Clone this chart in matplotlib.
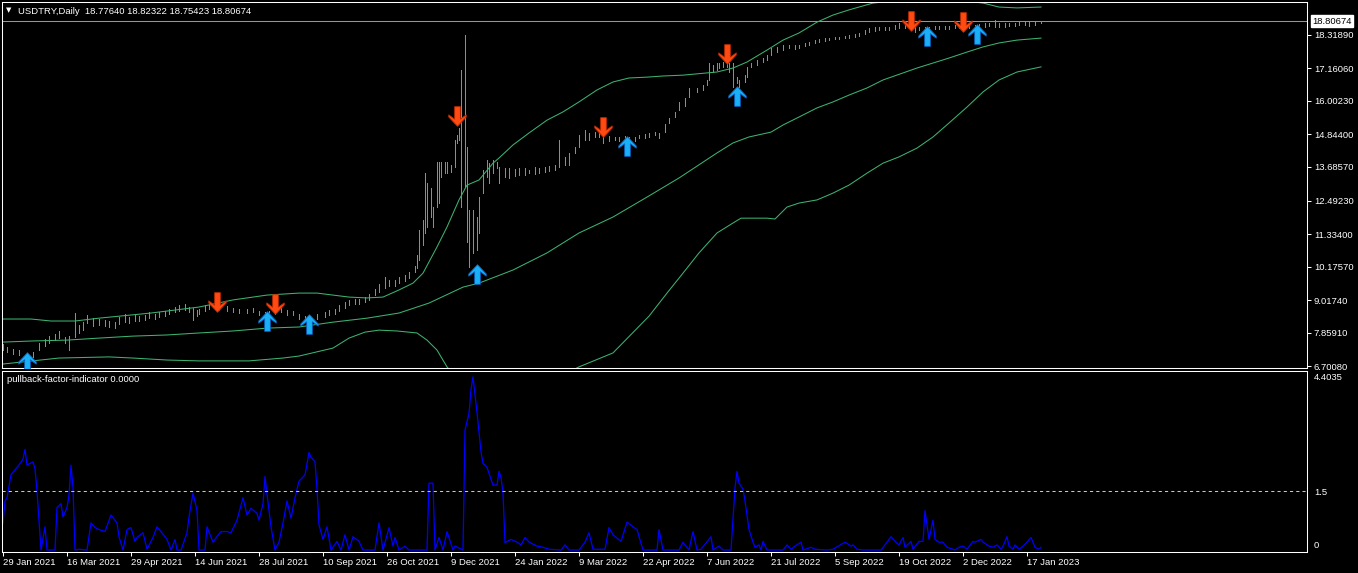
import numpy as np
import matplotlib
matplotlib.use('Agg')
import matplotlib.pyplot as plt
from matplotlib.path import Path

plt.rcParams['font.family'] = ['Liberation Sans', 'DejaVu Sans']

# price bars (bar index, high, low)
bar_idx = [0, 2, 5, 8, 12, 15, 18, 21, 23, 26, 28, 31, 33, 36, 38, 40, 42, 45, 48, 51,
           53, 56, 58, 61, 63, 66, 68, 71, 73, 76, 78, 81, 83, 86, 88, 91, 93, 95, 97, 98,
           101, 103, 106, 108, 112, 115, 118, 122, 125, 128, 131, 133, 136, 139, 142, 145, 148, 151, 153, 157,
           161, 163, 166, 168, 171, 173, 176, 178, 181, 183, 186, 188, 191, 193, 196, 198, 201, 203, 206, 207,
           208, 210, 211, 212, 214, 215, 217, 218, 219, 221, 222, 224, 226, 227, 228, 229, 231, 232, 233, 235,
           237, 238, 240, 242, 243, 245, 247, 248, 251, 253, 256, 258, 261, 263, 266, 268, 271, 273, 276, 278,
           281, 283, 286, 288, 291, 293, 296, 298, 300, 303, 306, 308, 311, 313, 316, 318, 321, 323, 326, 328,
           331, 333, 336, 338, 341, 343, 347, 350, 352, 353, 355, 357, 358, 360, 362, 363, 365, 367, 368, 371,
           372, 374, 377, 380, 382, 384, 387, 390, 393, 396, 398, 401, 403, 406, 408, 411, 413, 416, 418, 421,
           423, 426, 428, 431, 433, 436, 438, 441, 443, 446, 448, 451, 453, 456, 458, 461, 463, 466, 468, 471,
           473, 476, 478, 481, 483, 486, 488, 491, 493, 496, 498, 501, 503, 506, 508, 511, 513, 516, 519]
bar_high = [7.47, 7.37, 7.30, 7.26, 7.16, 7.19, 7.51, 7.65, 7.75, 7.82, 7.93, 7.72, 7.75, 8.56, 8.14, 8.24, 8.49, 8.38, 8.35, 8.32,
            8.28, 8.24, 8.42, 8.52, 8.42, 8.49, 8.46, 8.49, 8.60, 8.52, 8.60, 8.63, 8.70, 8.77, 8.84, 8.88, 8.77, 8.74, 8.67, 8.70,
            8.84, 8.88, 8.88, 8.84, 8.81, 8.74, 8.70, 8.70, 8.74, 8.63, 8.60, 8.63, 8.70, 8.74, 8.67, 8.63, 8.52, 8.46, 8.46, 8.52,
            8.60, 8.67, 8.70, 8.84, 8.95, 9.02, 9.05, 9.05, 9.12, 9.23, 9.40, 9.58, 9.82, 9.72, 9.72, 9.82, 9.89, 10.00, 10.21, 10.60,
            11.47, 11.82, 13.47, 13.12, 12.95, 12.28, 13.86, 13.86, 13.86, 13.86, 13.86, 13.75, 14.63, 14.81, 15.05, 17.09, 18.32, 14.39, 12.17, 12.17,
            11.93, 12.63, 13.58, 13.93, 13.82, 13.93, 13.86, 13.69, 13.65, 13.65, 13.61, 13.65, 13.65, 13.58, 13.69, 13.65, 13.69, 13.72, 13.75, 14.63,
            14.04, 14.18, 14.39, 14.81, 14.98, 14.88, 14.91, 14.88, 14.81, 14.77, 14.74, 14.74, 14.77, 14.74, 14.74, 14.81, 14.84, 14.88, 14.91, 14.88,
            15.19, 15.40, 15.62, 15.97, 16.11, 16.46, 16.46, 16.56, 16.74, 17.34, 17.27, 17.34, 17.34, 17.37, 17.37, 17.34, 17.34, 16.84, 16.74, 16.91,
            17.20, 17.34, 17.44, 17.51, 17.62, 17.86, 17.90, 17.97, 17.97, 17.97, 17.97, 18.04, 18.07, 18.14, 18.18, 18.21, 18.21, 18.25, 18.25, 18.28,
            18.32, 18.35, 18.39, 18.49, 18.56, 18.60, 18.60, 18.60, 18.60, 18.67, 18.74, 18.67, 18.67, 18.63, 18.60, 18.60, 18.60, 18.63, 18.63, 18.63,
            18.63, 18.67, 18.67, 18.67, 18.67, 18.67, 18.70, 18.74, 18.74, 18.84, 18.74, 18.74, 18.74, 18.74, 18.77, 18.77, 18.77, 18.77, 18.82]
bar_low = [7.26, 7.19, 7.12, 7.09, 6.98, 7.02, 7.26, 7.40, 7.51, 7.61, 7.68, 7.51, 7.26, 7.72, 7.86, 7.96, 8.21, 8.10, 8.14, 8.10,
           8.07, 8.03, 8.17, 8.24, 8.21, 8.28, 8.28, 8.32, 8.38, 8.35, 8.42, 8.46, 8.52, 8.60, 8.63, 8.67, 8.60, 8.32, 8.46, 8.52,
           8.63, 8.70, 8.70, 8.67, 8.63, 8.60, 8.56, 8.56, 8.60, 8.49, 8.42, 8.49, 8.52, 8.60, 8.49, 8.49, 8.35, 8.32, 8.32, 8.35,
           8.42, 8.49, 8.52, 8.63, 8.74, 8.84, 8.88, 8.88, 8.95, 9.02, 9.19, 9.30, 9.44, 9.51, 9.51, 9.61, 9.68, 9.79, 10.00, 10.14,
           10.42, 10.95, 11.37, 11.58, 11.93, 11.58, 12.28, 12.42, 13.33, 13.47, 13.47, 13.51, 13.69, 14.53, 14.63, 12.28, 12.98, 11.05, 10.18, 10.67,
           10.77, 11.37, 12.77, 13.33, 13.12, 13.47, 13.65, 13.12, 13.33, 13.30, 13.37, 13.40, 13.40, 13.47, 13.44, 13.47, 13.51, 13.55, 13.58, 13.69,
           13.75, 13.75, 14.18, 14.39, 14.63, 14.63, 14.74, 14.74, 14.53, 14.60, 14.63, 14.60, 14.63, 14.63, 14.60, 14.70, 14.70, 14.74, 14.81, 14.70,
           14.91, 15.23, 15.44, 15.69, 15.83, 16.14, 16.32, 16.39, 16.56, 16.74, 17.02, 17.09, 17.16, 17.20, 17.20, 17.02, 16.49, 16.63, 16.49, 16.67,
           16.84, 17.20, 17.27, 17.37, 17.44, 17.62, 17.72, 17.79, 17.86, 17.83, 17.86, 17.93, 17.97, 18.04, 18.07, 18.11, 18.14, 18.18, 18.18, 18.21,
           18.21, 18.25, 18.28, 18.35, 18.42, 18.46, 18.49, 18.49, 18.49, 18.53, 18.56, 18.56, 18.56, 18.42, 18.49, 18.49, 18.49, 18.53, 18.53, 18.53,
           18.53, 18.56, 18.56, 18.53, 18.56, 18.56, 18.60, 18.60, 18.63, 18.60, 18.60, 18.60, 18.63, 18.63, 18.67, 18.67, 18.63, 18.67, 18.75]

# bands
upper_bar = [0, 14, 24, 36, 48, 74, 98, 115, 132, 148, 157, 165, 173, 182, 190, 198, 205, 210, 217, 222,
             228, 232, 238, 245, 248, 255, 263, 272, 280, 288, 297, 305, 313, 322, 330, 340, 357, 365, 372, 382,
             390, 398, 407, 415, 423, 435, 450, 465, 480, 490, 498, 507, 519]
upper_val = [8.35, 8.35, 8.28, 8.28, 8.38, 8.56, 8.77, 9.02, 9.19, 9.26, 9.26, 9.19, 9.12, 9.09, 9.12, 9.37, 9.61, 9.96, 10.88, 11.58,
             12.53, 13.05, 13.23, 13.82, 14.00, 14.46, 14.88, 15.33, 15.62, 15.97, 16.39, 16.67, 16.81, 16.84, 16.88, 16.91, 17.02, 17.16, 17.37, 17.79,
             18.14, 18.39, 18.77, 19.02, 19.20, 19.44, 19.55, 19.58, 19.52, 19.44, 19.30, 19.27, 19.30]
middle_bar = [0, 15, 32, 48, 65, 82, 98, 115, 132, 148, 165, 182, 198, 213, 230, 238, 255, 272, 288, 305,
              322, 338, 357, 365, 373, 384, 390, 398, 407, 415, 423, 432, 440, 457, 473, 482, 490, 498, 507, 519]
middle_val = [7.54, 7.58, 7.61, 7.68, 7.75, 7.79, 7.86, 7.93, 8.03, 8.07, 8.24, 8.38, 8.56, 8.91, 9.47, 9.61, 10.07, 10.67, 11.37, 11.93,
              12.63, 13.30, 14.18, 14.53, 14.74, 14.91, 15.16, 15.44, 15.76, 15.97, 16.21, 16.46, 16.74, 17.16, 17.51, 17.72, 17.90, 18.04, 18.14, 18.21]
lower_bar = [0, 28, 53, 65, 82, 98, 123, 140, 148, 165, 173, 181, 188, 197, 207, 212, 217, 222, 230, 245,
             260, 275, 288, 305, 323, 332, 340, 348, 357, 365, 369, 382, 386, 392, 398, 407, 415, 423, 432, 440,
             448, 457, 465, 473, 482, 490, 498, 507, 519]
lower_val = [6.77, 6.98, 7.02, 6.98, 6.91, 6.88, 6.88, 6.98, 7.05, 7.33, 7.68, 7.89, 7.96, 7.93, 7.86, 7.61, 7.26, 6.67, 6.00, 5.60,
             5.70, 6.20, 6.67, 7.16, 8.45, 9.26, 9.96, 10.67, 11.37, 11.72, 11.89, 11.89, 11.86, 12.28, 12.42, 12.53, 12.77, 13.05, 13.47, 13.82,
             14.04, 14.35, 14.74, 15.23, 15.79, 16.32, 16.74, 17.02, 17.20]

# signal arrows
up_bar = [12, 132, 153, 237, 312, 367, 462, 487]
up_val = [6.84, 8.28, 8.17, 9.93, 14.42, 16.18, 18.28, 18.35]
down_bar = [107, 136, 227, 300, 362, 454, 480]
down_val = [8.95, 8.88, 15.47, 15.09, 17.65, 18.81, 18.77]

# pullback factor indicator
ind_bar = [0, 1, 2, 4, 6, 8, 10, 11, 12, 15, 16, 17, 19, 21, 22, 26, 27, 29, 30, 32,
           33, 34, 35, 36, 38, 42, 44, 46, 48, 51, 54, 57, 58, 60, 62, 64, 66, 67, 70, 72,
           75, 77, 81, 82, 84, 86, 87, 89, 92, 93, 95, 97, 98, 101, 102, 105, 107, 109, 112, 114,
           117, 120, 122, 124, 127, 128, 130, 131, 132, 134, 136, 138, 140, 142, 144, 146, 148, 151, 153, 154,
           156, 157, 158, 160, 162, 164, 167, 169, 171, 173, 175, 178, 180, 186, 188, 190, 193, 195, 196, 198,
           201, 203, 212, 213, 215, 216, 218, 220, 222, 225, 226, 230, 231, 233, 234, 235, 237, 238, 239, 240,
           242, 245, 247, 248, 249, 250, 251, 252, 254, 257, 259, 261, 263, 267, 270, 273, 279, 281, 283, 288,
           291, 293, 295, 301, 303, 305, 309, 312, 315, 317, 320, 327, 328, 330, 338, 340, 343, 345, 347, 349,
           354, 355, 358, 360, 364, 366, 367, 368, 370, 371, 373, 375, 376, 378, 379, 380, 382, 390, 392, 394,
           396, 399, 400, 404, 406, 412, 415, 421, 424, 425, 427, 430, 439, 441, 444, 446, 448, 450, 451, 454,
           455, 458, 460, 461, 463, 465, 466, 468, 470, 472, 475, 476, 478, 480, 482, 485, 486, 489, 490, 493,
           495, 497, 499, 500, 502, 503, 505, 506, 508, 510, 512, 514, 516, 518, 519]
ind_val = [0.69, 1.25, 1.33, 1.91, 2.04, 2.16, 2.31, 2.56, 2.16, 2.24, 2.07, 1.50, 0.0, 0.59, 0.0, 0.0, 1.08, 1.18, 0.84, 1.08,
           1.40, 2.16, 1.58, 0.0, 0.02, 0.0, 0.69, 0.57, 0.52, 0.47, 0.89, 0.69, 0.34, 0.0, 0.52, 0.57, 0.22, 0.32, 0.44, 0.02,
           0.32, 0.59, 0.34, 0.27, 0.0, 0.27, 0.0, 0.0, 0.44, 0.84, 1.45, 1.01, 0.0, 0.0, 0.59, 0.20, 0.34, 0.47, 0.47, 0.44,
           0.76, 1.33, 0.89, 1.06, 0.93, 0.76, 1.18, 1.87, 1.43, 0.59, 0.0, 0.20, 0.69, 1.25, 0.81, 1.33, 1.75, 1.91, 2.48, 2.36,
           2.24, 1.55, 0.64, 0.27, 0.59, 0.0, 0.22, 0.0, 0.39, 0.0, 0.34, 0.22, 0.0, 0.0, 0.69, 0.0, 0.57, 0.10, 0.32, 0.0,
           0.10, 0.0, 0.0, 1.70, 1.70, 0.0, 0.32, 0.0, 0.47, 0.0, 0.10, 0.0, 3.05, 3.47, 4.08, 4.40, 3.50, 3.00, 2.50, 2.20,
           2.10, 1.65, 1.65, 2.00, 1.85, 1.45, 0.18, 0.22, 0.27, 0.20, 0.13, 0.32, 0.20, 0.10, 0.07, 0.02, 0.0, 0.13, 0.0, 0.0,
           0.20, 0.44, 0.02, 0.02, 0.57, 0.39, 0.22, 0.71, 0.59, 0.52, 0.0, 0.0, 0.52, 0.0, 0.0, 0.20, 0.0, 0.47, 0.0, 0.02,
           0.34, 0.0, 0.10, 0.0, 0.0, 1.58, 2.00, 1.70, 1.55, 1.25, 0.52, 0.20, 0.07, 0.13, 0.0, 0.22, 0.0, 0.0, 0.13, 0.02,
           0.10, 0.20, 0.0, 0.07, 0.02, 0.0, 0.02, 0.20, 0.10, 0.13, 0.02, 0.0, 0.0, 0.13, 0.34, 0.22, 0.13, 0.32, 0.07, 0.22,
           0.02, 0.22, 0.22, 1.00, 0.27, 0.76, 0.27, 0.20, 0.20, 0.07, 0.02, 0.0, 0.07, 0.10, 0.02, 0.22, 0.20, 0.27, 0.20, 0.10,
           0.07, 0.13, 0.02, 0.10, 0.34, 0.10, 0.02, 0.13, 0.02, 0.10, 0.20, 0.32, 0.07, 0.02, 0.07]

price_ticks = [18.31890, 17.16060, 16.00230, 14.84400, 13.68570, 12.49230, 11.33400, 10.17570, 9.01740, 7.85910, 6.70080]
last_price = 18.80674
ind_level = 1.5
ind_max = 4.4035
date_bars = [0, 32, 64, 96, 128, 160, 192, 224, 256, 288, 320, 352, 384, 416, 448, 480, 512]
date_labels = ["29 Jan 2021", "16 Mar 2021", "29 Apr 2021", "14 Jun 2021", "28 Jul 2021", "10 Sep 2021",
               "26 Oct 2021", "9 Dec 2021", "24 Jan 2022", "9 Mar 2022", "22 Apr 2022", "7 Jun 2022",
               "21 Jul 2022", "5 Sep 2022", "19 Oct 2022", "2 Dec 2022", "17 Jan 2023"]

W, H = 1358, 573
fig = plt.figure(figsize=(W / 100, H / 100), dpi=100, facecolor='black')

def px_axes(x0, y0, x1, y1):
    return fig.add_axes([x0 / W, 1 - y1 / H, (x1 - x0) / W, (y1 - y0) / H])

ax = px_axes(2, 2, 1307, 368)
ax2 = px_axes(2, 371, 1307, 552)
FS = 6.8
LW = 0.75

for a in (ax, ax2):
    a.set_facecolor('black')
    for s in a.spines.values():
        s.set_color('white')
        s.set_linewidth(LW)
    a.set_xlim(-0.5, 652)
    a.yaxis.tick_right()

# main chart
ax.set_ylim(6.6306, 19.4772)
ax.vlines(bar_idx, bar_low, bar_high, color='#32cd32', lw=0.55, antialiased=False)
band_col = '#3cb371'
ax.plot(upper_bar, upper_val, color=band_col, lw=0.75)
ax.plot(middle_bar, middle_val, color=band_col, lw=0.75)
ax.plot(lower_bar, lower_val, color=band_col, lw=0.75)
ax.axhline(last_price, color='#8a99aa', lw=0.75, zorder=1)

up_path = Path([(0, 9), (8, 0.5), (8, -1.5), (2.6, 2.5), (2.6, -9), (-2.6, -9), (-2.6, 2.5), (-8, -1.5), (-8, 0.5), (0, 9)],
               [Path.MOVETO] + [Path.LINETO] * 8 + [Path.CLOSEPOLY])
down_path = Path(up_path.vertices * np.array([1, -1]), up_path.codes)
ax.scatter(up_bar, up_val, marker=up_path, s=200, c='#19b0f5', edgecolors='#0b62c4', linewidths=0.6, zorder=5)
ax.scatter(down_bar, down_val, marker=down_path, s=200, c='#ff4a12', edgecolors='#c02a00', linewidths=0.6, zorder=5)

ax.set_xticks([])
ax.set_yticks(price_ticks)
ax.set_yticklabels(['%.5f' % v for v in price_ticks])
ax.tick_params(axis='y', colors='white', length=3, width=LW, labelsize=FS, pad=2)

ax.annotate('%.5f' % last_price, xy=(1, last_price), xycoords=('axes fraction', 'data'),
            xytext=(4, 0), textcoords='offset points', va='center', ha='left', fontsize=FS, color='black',
            bbox=dict(boxstyle='square,pad=0.12', fc='white', ec='white'), annotation_clip=False)

fig.text(9 / W, 1 - 10 / H, '\u25bc', color='white', fontsize=5, ha='center', va='center', family='DejaVu Sans')
fig.text(18 / W, 1 - 11 / H, 'USDTRY,Daily  18.77640 18.82322 18.75423 18.80674', color='white',
         fontsize=FS, ha='left', va='center')

# indicator window
ax2.set_ylim(-0.05, 4.55)
ax2.plot(ind_bar, ind_val, color='#0000ff', lw=0.9)
ax2.axhline(ind_level, color='#c8c8c8', lw=0.75, ls=(0, (3, 3)))
ax2.set_yticks([0, ind_level, ind_max])
ax2.set_yticklabels(['0', '1.5', '4.4035'])
ax2.tick_params(axis='y', colors='white', length=0, labelsize=FS, pad=5)
ax2.get_yticklabels()[0].set_va('bottom')
ax2.set_xticks(date_bars)
ax2.set_xticklabels(date_labels)
for lbl in ax2.get_xticklabels():
    lbl.set_ha('left')
ax2.tick_params(axis='x', colors='white', length=3, width=LW, labelsize=FS, pad=1.5)
fig.text(7 / W, 1 - 380 / H, 'pullback-factor-indicator 0.0000', color='white', fontsize=FS,
         ha='left', va='center')

fig.savefig('out.png', dpi=100, facecolor='black')
